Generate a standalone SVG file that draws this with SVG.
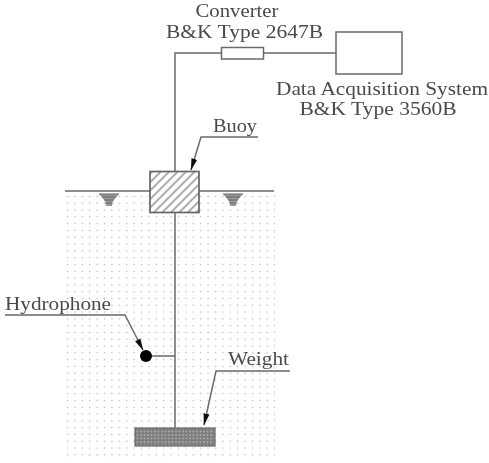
<svg xmlns="http://www.w3.org/2000/svg" width="489" height="463" viewBox="0 0 489 463">
<style>
.l{fill:none;stroke:#6a6a6a;stroke-width:1.5}
.b{fill:#fff;stroke:#6a6a6a;stroke-width:1.5}
.t{font-family:"Liberation Serif",serif;font-size:18.500px;fill:#4a4a4a;text-anchor:middle}
.h{stroke:#666;stroke-width:1.2;fill:none}
</style>
<defs>
<filter id="soft" x="0" y="0" width="100%" height="100%"><feGaussianBlur stdDeviation="0.5"/></filter>
<pattern id="dots" width="7.400" height="6.800" patternUnits="userSpaceOnUse" x="66" y="195"><circle cx="1.500" cy="1.500" r="0.800" fill="#b4b4b4"/></pattern>
<pattern id="hatch" width="6" height="6" patternUnits="userSpaceOnUse" patternTransform="rotate(-45 0 0)"><rect width="6" height="6" fill="#fff"/><line x1="0" y1="1" x2="6" y2="1" stroke="#777" stroke-width="1.2"/></pattern>
<pattern id="grain" width="3.500" height="3.500" patternUnits="userSpaceOnUse"><rect width="3.500" height="3.500" fill="#7e7e7e"/><circle cx="1" cy="1" r="0.800" fill="#c0c0c0"/></pattern>
<marker id="arr" markerWidth="12" markerHeight="7" refX="11.500" refY="3.500" orient="auto" markerUnits="userSpaceOnUse"><path d="M0 0.500L12 3.500L0 6.500Z" fill="#111"/></marker>
</defs>
<g filter="url(#soft)">
<rect id="water" x="66" y="195" width="209" height="266" fill="url(#dots)"/>
<g id="connectors">
<path class="l" d="M175 171V53H221M264 53H336"/>
<path class="l" d="M175 212V428M146 356H175"/>
<path class="l" d="M65 191H150M199 191H274"/>
<path class="l" marker-end="url(#arr)" d="M258 137H201L191 170"/>
<path class="l" marker-end="url(#arr)" d="M5 315H125L143 350"/>
<path class="l" marker-end="url(#arr)" d="M290 371H216L204 425"/>
</g>
<g id="converter"><rect class="b" x="221.500" y="47.500" width="42" height="11.500"/><text class="t" x="237" y="17" textLength="83" lengthAdjust="spacingAndGlyphs">Converter</text><text class="t" x="244.500" y="38" textLength="157" lengthAdjust="spacingAndGlyphs">B&amp;K Type 2647B</text></g>
<g id="daq"><rect class="b" x="336" y="32" width="66" height="42"/><text class="t" x="382" y="94.500" textLength="212" lengthAdjust="spacingAndGlyphs">Data Acquisition System</text><text class="t" x="378" y="115" textLength="157" lengthAdjust="spacingAndGlyphs">B&amp;K Type 3560B</text></g>
<g id="buoy"><rect x="150" y="171.500" width="49" height="41" fill="url(#hatch)" stroke="#666" stroke-width="1.7"/><text class="t" x="235" y="132" textLength="44" lengthAdjust="spacingAndGlyphs">Buoy</text></g>
<g id="surface-left"><path d="M99 194H119L113 201L112 206H106L105 201Z" fill="#999"/><path class="h" d="M99 194H119M102 197H116M104 200H114M106 203H112"/></g>
<g id="surface-right"><path d="M223 194H243L237 201L236 206H230L229 201Z" fill="#999"/><path class="h" d="M223 194H243M226 197H240M228 200H238M230 203H236"/></g>
<g id="hydrophone"><circle cx="146" cy="356" r="6" fill="#000"/><text class="t" x="58" y="310" textLength="106" lengthAdjust="spacingAndGlyphs">Hydrophone</text></g>
<g id="weight"><rect x="135" y="428" width="80" height="18" fill="url(#grain)" stroke="#666" stroke-width="1.2"/><text class="t" x="258.500" y="365" textLength="61" lengthAdjust="spacingAndGlyphs">Weight</text></g>
</g>
</svg>
